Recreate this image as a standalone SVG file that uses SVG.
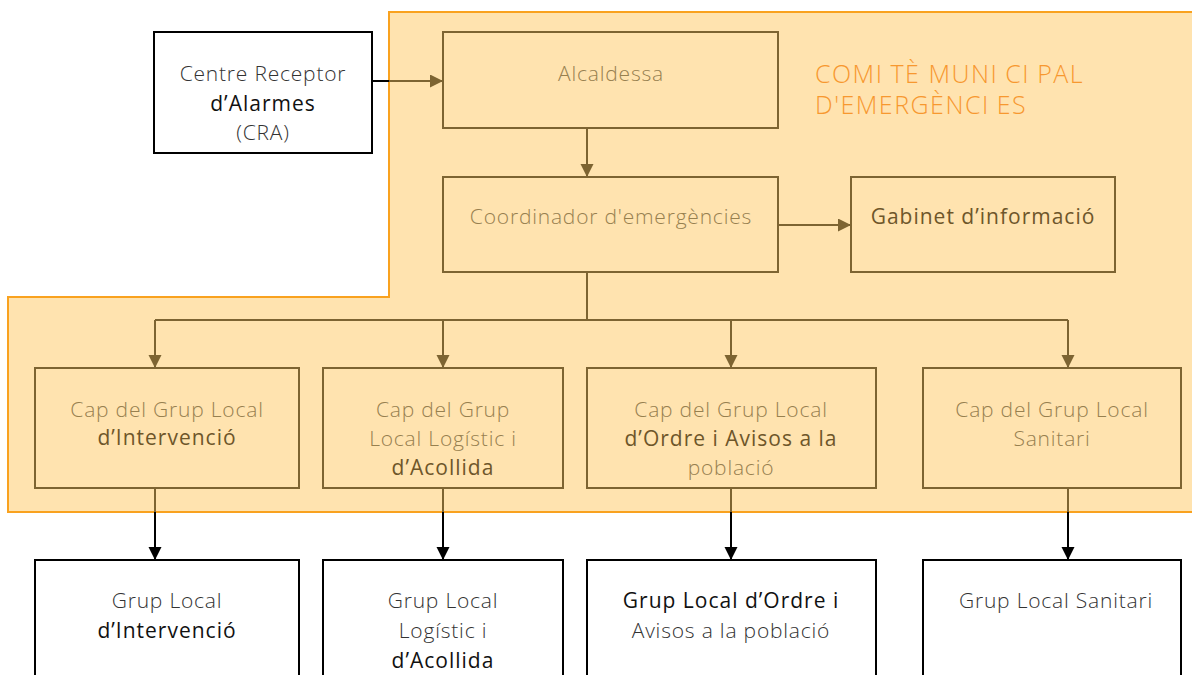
<svg xmlns="http://www.w3.org/2000/svg" width="1192" height="675" viewBox="0 0 1192 675">
<style>
.lt{font-family:"Open Sans","Liberation Sans",sans-serif;font-weight:300;font-size:21px;letter-spacing:0.8px;text-anchor:middle}
.dk{font-family:"Open Sans","Liberation Sans",sans-serif;font-weight:400;font-size:21px;letter-spacing:1px;text-anchor:middle}
.in .lt{fill:#97804F}
.in .dk{fill:#6E562A}
.out .lt{fill:#333333}
.out .dk{fill:#111111}
.bi{fill:none;stroke:#7D6432;stroke-width:2}
.bo{fill:#FFFFFF;stroke:#000000;stroke-width:2}
.cb{fill:none;stroke:#7D6432;stroke-width:2}
.ck{fill:none;stroke:#000000;stroke-width:2}
.title{font-family:"Open Sans","Liberation Sans",sans-serif;font-weight:300;font-size:25px;letter-spacing:1.5px;fill:#F7982F}
</style>
<defs>
<marker id="ab" markerUnits="userSpaceOnUse" markerWidth="14" markerHeight="14" refX="13" refY="6.5" orient="auto"><path d="M0,0 L13,6.5 L0,13 z" fill="#7D6432"/></marker>
<marker id="ak" markerUnits="userSpaceOnUse" markerWidth="14" markerHeight="14" refX="13" refY="6.5" orient="auto"><path d="M0,0 L13,6.5 L0,13 z" fill="#000000"/></marker>
</defs>
<rect width="1192" height="675" fill="#FFFFFF"/>
<g id="committee-area">
<path d="M389,12 H1200 V512 H8 V297 H389 Z" fill="#FFE3AF" stroke="#F9A21F" stroke-width="2"/>
<text class="title" x="815" y="83">COMI<tspan dx="7">TÈ</tspan> MUNI<tspan dx="7">C</tspan>I<tspan dx="7">PAL</tspan></text>
<text class="title" x="815" y="114">D'EMERGÈNCI<tspan dx="7">ES</tspan></text>
</g>
<g id="connectors">
<line class="ck" x1="372" y1="81" x2="389" y2="81"/>
<line class="cb" x1="389" y1="81" x2="443" y2="81" marker-end="url(#ab)"/>
<line class="cb" x1="587" y1="128" x2="587" y2="177" marker-end="url(#ab)"/>
<line class="cb" x1="778" y1="225" x2="851" y2="225" marker-end="url(#ab)"/>
<polyline class="cb" points="587,272 587,320"/>
<line class="cb" x1="155" y1="320" x2="1068" y2="320"/>
<line class="cb" x1="155" y1="320" x2="155" y2="368" marker-end="url(#ab)"/>
<line class="cb" x1="443" y1="320" x2="443" y2="368" marker-end="url(#ab)"/>
<line class="cb" x1="731" y1="320" x2="731" y2="368" marker-end="url(#ab)"/>
<line class="cb" x1="1068" y1="320" x2="1068" y2="368" marker-end="url(#ab)"/>
<line class="cb" x1="155" y1="488" x2="155" y2="512"/>
<line class="ck" x1="155" y1="512" x2="155" y2="560" marker-end="url(#ak)"/>
<line class="cb" x1="443" y1="488" x2="443" y2="512"/>
<line class="ck" x1="443" y1="512" x2="443" y2="560" marker-end="url(#ak)"/>
<line class="cb" x1="731" y1="488" x2="731" y2="512"/>
<line class="ck" x1="731" y1="512" x2="731" y2="560" marker-end="url(#ak)"/>
<line class="cb" x1="1068" y1="488" x2="1068" y2="512"/>
<line class="ck" x1="1068" y1="512" x2="1068" y2="560" marker-end="url(#ak)"/>
</g>
<g id="cra" class="out">
<rect class="bo" x="154" y="32" width="218" height="121"/>
<text class="lt" x="263" y="81">Centre Receptor</text>
<text class="dk" x="263" y="111">d’Alarmes</text>
<text class="lt" x="263" y="140">(CRA)</text>
</g>
<g id="alcaldessa" class="in">
<rect class="bi" x="443" y="32" width="335" height="96"/>
<text class="lt" x="611" y="81">Alcaldessa</text>
</g>
<g id="coordinador" class="in">
<rect class="bi" x="443" y="177" width="335" height="95"/>
<text class="lt" x="611" y="224">Coordinador d'emergències</text>
</g>
<g id="gabinet" class="in">
<rect class="bi" x="851" y="177" width="264" height="95"/>
<text class="dk" x="983" y="224">Gabinet d’informació</text>
</g>
<g id="cap-intervencio" class="in">
<rect class="bi" x="35" y="368" width="264" height="120"/>
<text class="lt" x="167" y="417">Cap del Grup Local</text>
<text class="dk" x="167" y="445">d’Intervenció</text>
</g>
<g id="cap-logistic" class="in">
<rect class="bi" x="323" y="368" width="240" height="120"/>
<text class="lt" x="443" y="417">Cap del Grup</text>
<text class="lt" x="443" y="446">Local Logístic i</text>
<text class="dk" x="443" y="475">d’Acollida</text>
</g>
<g id="cap-ordre" class="in">
<rect class="bi" x="587" y="368" width="289" height="120"/>
<text class="lt" x="731" y="417">Cap del Grup Local</text>
<text class="dk" x="731" y="446">d’Ordre i Avisos a la</text>
<text class="lt" x="731" y="475">població</text>
</g>
<g id="cap-sanitari" class="in">
<rect class="bi" x="923" y="368" width="258" height="120"/>
<text class="lt" x="1052" y="417">Cap del Grup Local</text>
<text class="lt" x="1052" y="446">Sanitari</text>
</g>
<g id="grup-intervencio" class="out">
<rect class="bo" x="35" y="560" width="264" height="130"/>
<text class="lt" x="167" y="608">Grup Local</text>
<text class="dk" x="167" y="638">d’Intervenció</text>
</g>
<g id="grup-logistic" class="out">
<rect class="bo" x="323" y="560" width="240" height="130"/>
<text class="lt" x="443" y="608">Grup Local</text>
<text class="lt" x="443" y="638">Logístic i</text>
<text class="dk" x="443" y="668">d’Acollida</text>
</g>
<g id="grup-ordre" class="out">
<rect class="bo" x="587" y="560" width="289" height="130"/>
<text class="dk" x="731" y="608">Grup Local d’Ordre i</text>
<text class="lt" x="731" y="638">Avisos a la població</text>
</g>
<g id="grup-sanitari" class="out">
<rect class="bo" x="923" y="560" width="258" height="130"/>
<text class="lt" x="1056" y="608">Grup Local Sanitari</text>
</g>
</svg>
